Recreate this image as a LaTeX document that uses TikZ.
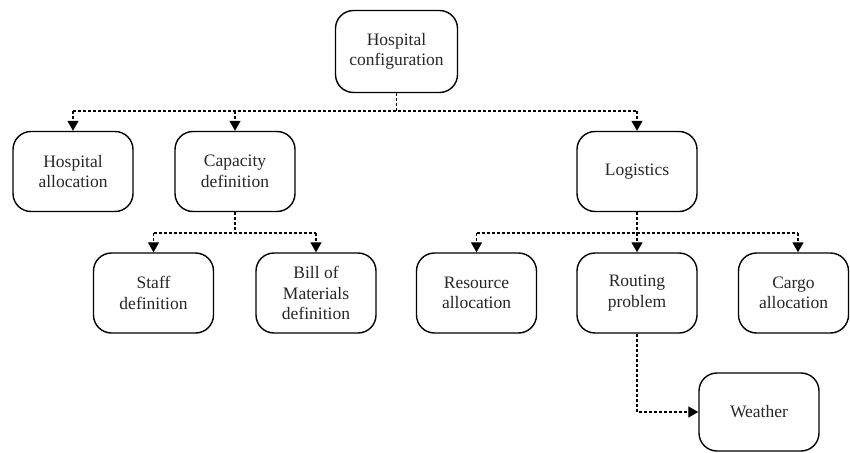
\documentclass[tikz,border=0pt]{standalone}
\usepackage{fontspec}
\setmainfont{Liberation Serif}
\usetikzlibrary{arrows.meta}
\begin{document}
\begin{tikzpicture}[x=1pt,y=-1pt,
  box/.style={draw, line width=1.4pt, rounded corners=18pt,
    minimum width=120pt, minimum height=80pt, align=center,
    inner sep=2pt, font=\fontsize{17.5}{20.5}\selectfont, text=black!85},
  dline/.style={line width=1.3pt, dash pattern=on 3pt off 2pt},
  link/.style={dline, -{Triangle[width=11pt,length=10pt]}}]
\useasboundingbox (0,0) rectangle (850,452);

\node[box, minimum width=122pt, minimum height=82pt] (conf) at (396.5,51.5) {Hospital\\configuration};
\node[box] (halloc) at (73,171.5) {Hospital\\allocation};
\node[box] (capdef) at (235,171.5) {Capacity\\definition};
\node[box] (logi) at (637,171.5) {Logistics};
\node[box] (staff) at (153.5,293) {Staff\\definition};
\node[box] (bom) at (316,293) {Bill of\\Materials\\definition};
\node[box] (res) at (476.5,293) {Resource\\allocation};
\node[box] (route) at (637,293) {Routing\\problem};
\node[box, minimum width=110pt] (cargo) at (793.5,293) {Cargo\\allocation};
\node[box, minimum height=78pt] (weather) at (759,412) {Weather};

% junction points of the three branchings
\coordinate (j1) at (396.5,111);
\coordinate (j2) at (235,233);
\coordinate (j3) at (637,233);
\coordinate (cargoin) at ([xshift=4.5pt]cargo.north);

% first level
\draw[dline] (conf.south) -- (j1);
\draw[dline] (halloc.north |- j1) -- (logi.north |- j1);
\draw[link] (halloc.north |- j1) -- (halloc.north);
\draw[link] (capdef.north |- j1) -- (capdef.north);
\draw[link] (logi.north |- j1) -- (logi.north);

% capacity branch
\draw[dline] (capdef.south) -- (j2);
\draw[dline] (staff.north |- j2) -- (bom.north |- j2);
\draw[link] (staff.north |- j2) -- (staff.north);
\draw[link] (bom.north |- j2) -- (bom.north);

% logistics branch
\draw[dline] (logi.south) -- (j3);
\draw[dline] (res.north |- j3) -- (cargoin |- j3);
\draw[link] (res.north |- j3) -- (res.north);
\draw[link] (j3) -- (route.north);
\draw[link] (cargoin |- j3) -- (cargoin);

% routing to weather
\draw[link] (route.south) |- (weather.west);
\end{tikzpicture}
\end{document}
